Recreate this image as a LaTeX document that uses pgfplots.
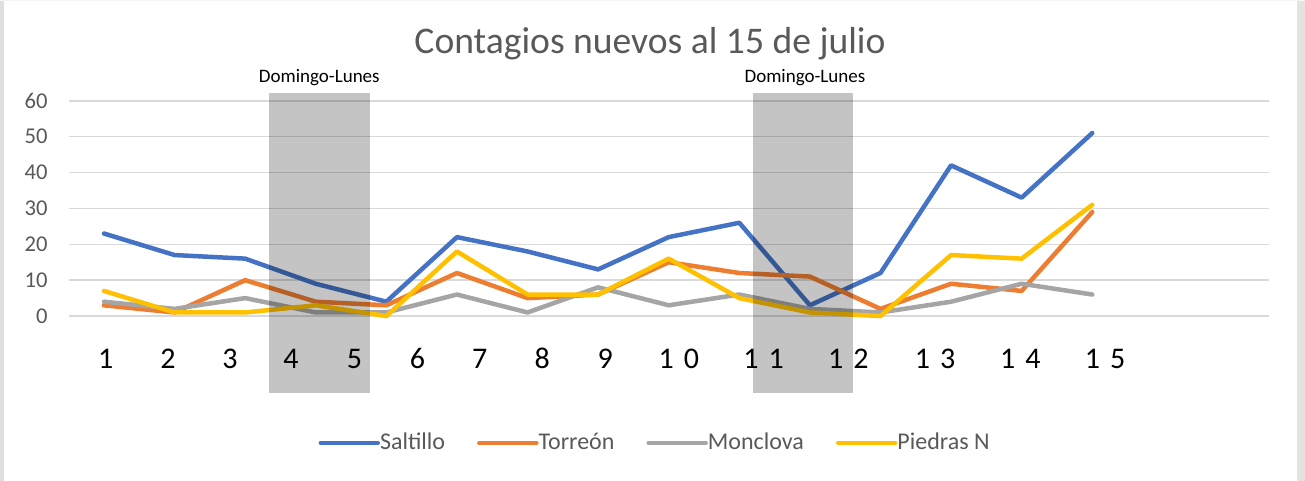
\documentclass[border=0pt]{standalone}
\usepackage{pgfplots}
\pgfplotsset{compat=1.18}
\usepackage{fontspec}
\setmainfont{Carlito}
\definecolor{cBlue}{HTML}{4472C4}
\definecolor{cOrange}{HTML}{ED7D31}
\definecolor{cGray}{HTML}{A5A5A5}
\definecolor{cYellow}{HTML}{FFC000}
\definecolor{txtGray}{HTML}{595959}
\definecolor{gridGray}{HTML}{D9D9D9}
\begin{document}
\begin{tikzpicture}
\useasboundingbox (0,0) rectangle (652.5pt,240.5pt);
\fill[white] (0,0) rectangle (652.5pt,240.5pt);
\fill[gray!25] (0,0) rectangle (2pt,240.5pt);
\fill[gray!22] (648.5pt,0) rectangle (652.5pt,240.5pt);
\fill[gray!8] (0,240pt) rectangle (652.5pt,240.5pt);
\begin{axis}[
    at={(34.35pt,43pt)}, anchor=south west,
    scale only axis,
    width=600pt, height=151.6pt,
    xmin=0.5, xmax=17.5,
    ymin=-22, ymax=62.5,
    clip=false,
    axis line style={draw=none},
    major tick length=0pt,
    ytick={0,10,20,30,40,50,60},
    ymajorgrids,
    grid style={gridGray, line width=0.75pt},
    yticklabel style={font=\fontsize{11.3}{13}\selectfont, text=txtGray, xshift=-7pt},
    /pgf/number format/assume math mode=true,
    xtick={1.024,1.905,2.785,3.649,4.548,5.440,6.322,7.208,8.101,9.144,10.343,11.544,12.775,13.982,15.183},
    xticklabels={1,2,3,4,5,6,7,8,9,1\,\,0,1\,\,1,1\,\,2,1\,\,3,1\,\,4,1\,\,5},
    xticklabel style={font=\fontsize{15}{18}\selectfont, anchor=base, yshift=13pt},
    legend columns=-1,
    legend style={at={(0.4878,-0.158)}, anchor=center, draw=none, fill=none,
        font=\fontsize{12}{14}\selectfont, text=txtGray,
        /tikz/every even column/.append style={column sep=16pt},
        nodes={inner xsep=0pt}},
    legend image code/.code={\draw[#1, line width=2.25pt, line cap=round] (0pt,0pt) -- (28.5pt,0pt);},
    every axis plot/.append style={line width=2.25pt, line join=round, line cap=round, no markers},
]
\addplot[cBlue] coordinates {(1,23) (2,17) (3,16) (4,9) (5,4) (6,22) (7,18) (8,13) (9,22) (10,26) (11,3) (12,12) (13,42) (14,33) (15,51)};
\addplot[cOrange] coordinates {(1,3) (2,1) (3,10) (4,4) (5,3) (6,12) (7,5) (8,6) (9,15) (10,12) (11,11) (12,2) (13,9) (14,7) (15,29)};
\addplot[cGray] coordinates {(1,4) (2,2) (3,5) (4,1) (5,1) (6,6) (7,1) (8,8) (9,3) (10,6) (11,2) (12,1) (13,4) (14,9) (15,6)};
\addplot[cYellow] coordinates {(1,7) (2,1) (3,1) (4,3) (5,0) (6,18) (7,6) (8,6) (9,16) (10,5) (11,1) (12,0) (13,17) (14,16) (15,31)};
\legend{Saltillo, Torreón, Monclova, Piedras N}
\fill[black, opacity=0.23] (axis cs:3.337,-21.4) rectangle (axis cs:4.768,62.2);
\fill[black, opacity=0.23] (axis cs:10.19,-21.4) rectangle (axis cs:11.61,62.2);
\node[anchor=base, font=\fontsize{9.5}{11}\selectfont] at (axis cs:4.05,65.1) {Domingo-Lunes};
\node[anchor=base, font=\fontsize{9.5}{11}\selectfont] at (axis cs:10.93,65.1) {Domingo-Lunes};
\node[anchor=base, font=\fontsize{18.8}{22}\selectfont, text=txtGray] at (rel axis cs:0.4844,1.1278) {Contagios nuevos al 15 de julio};
\end{axis}
\end{tikzpicture}
\end{document}
